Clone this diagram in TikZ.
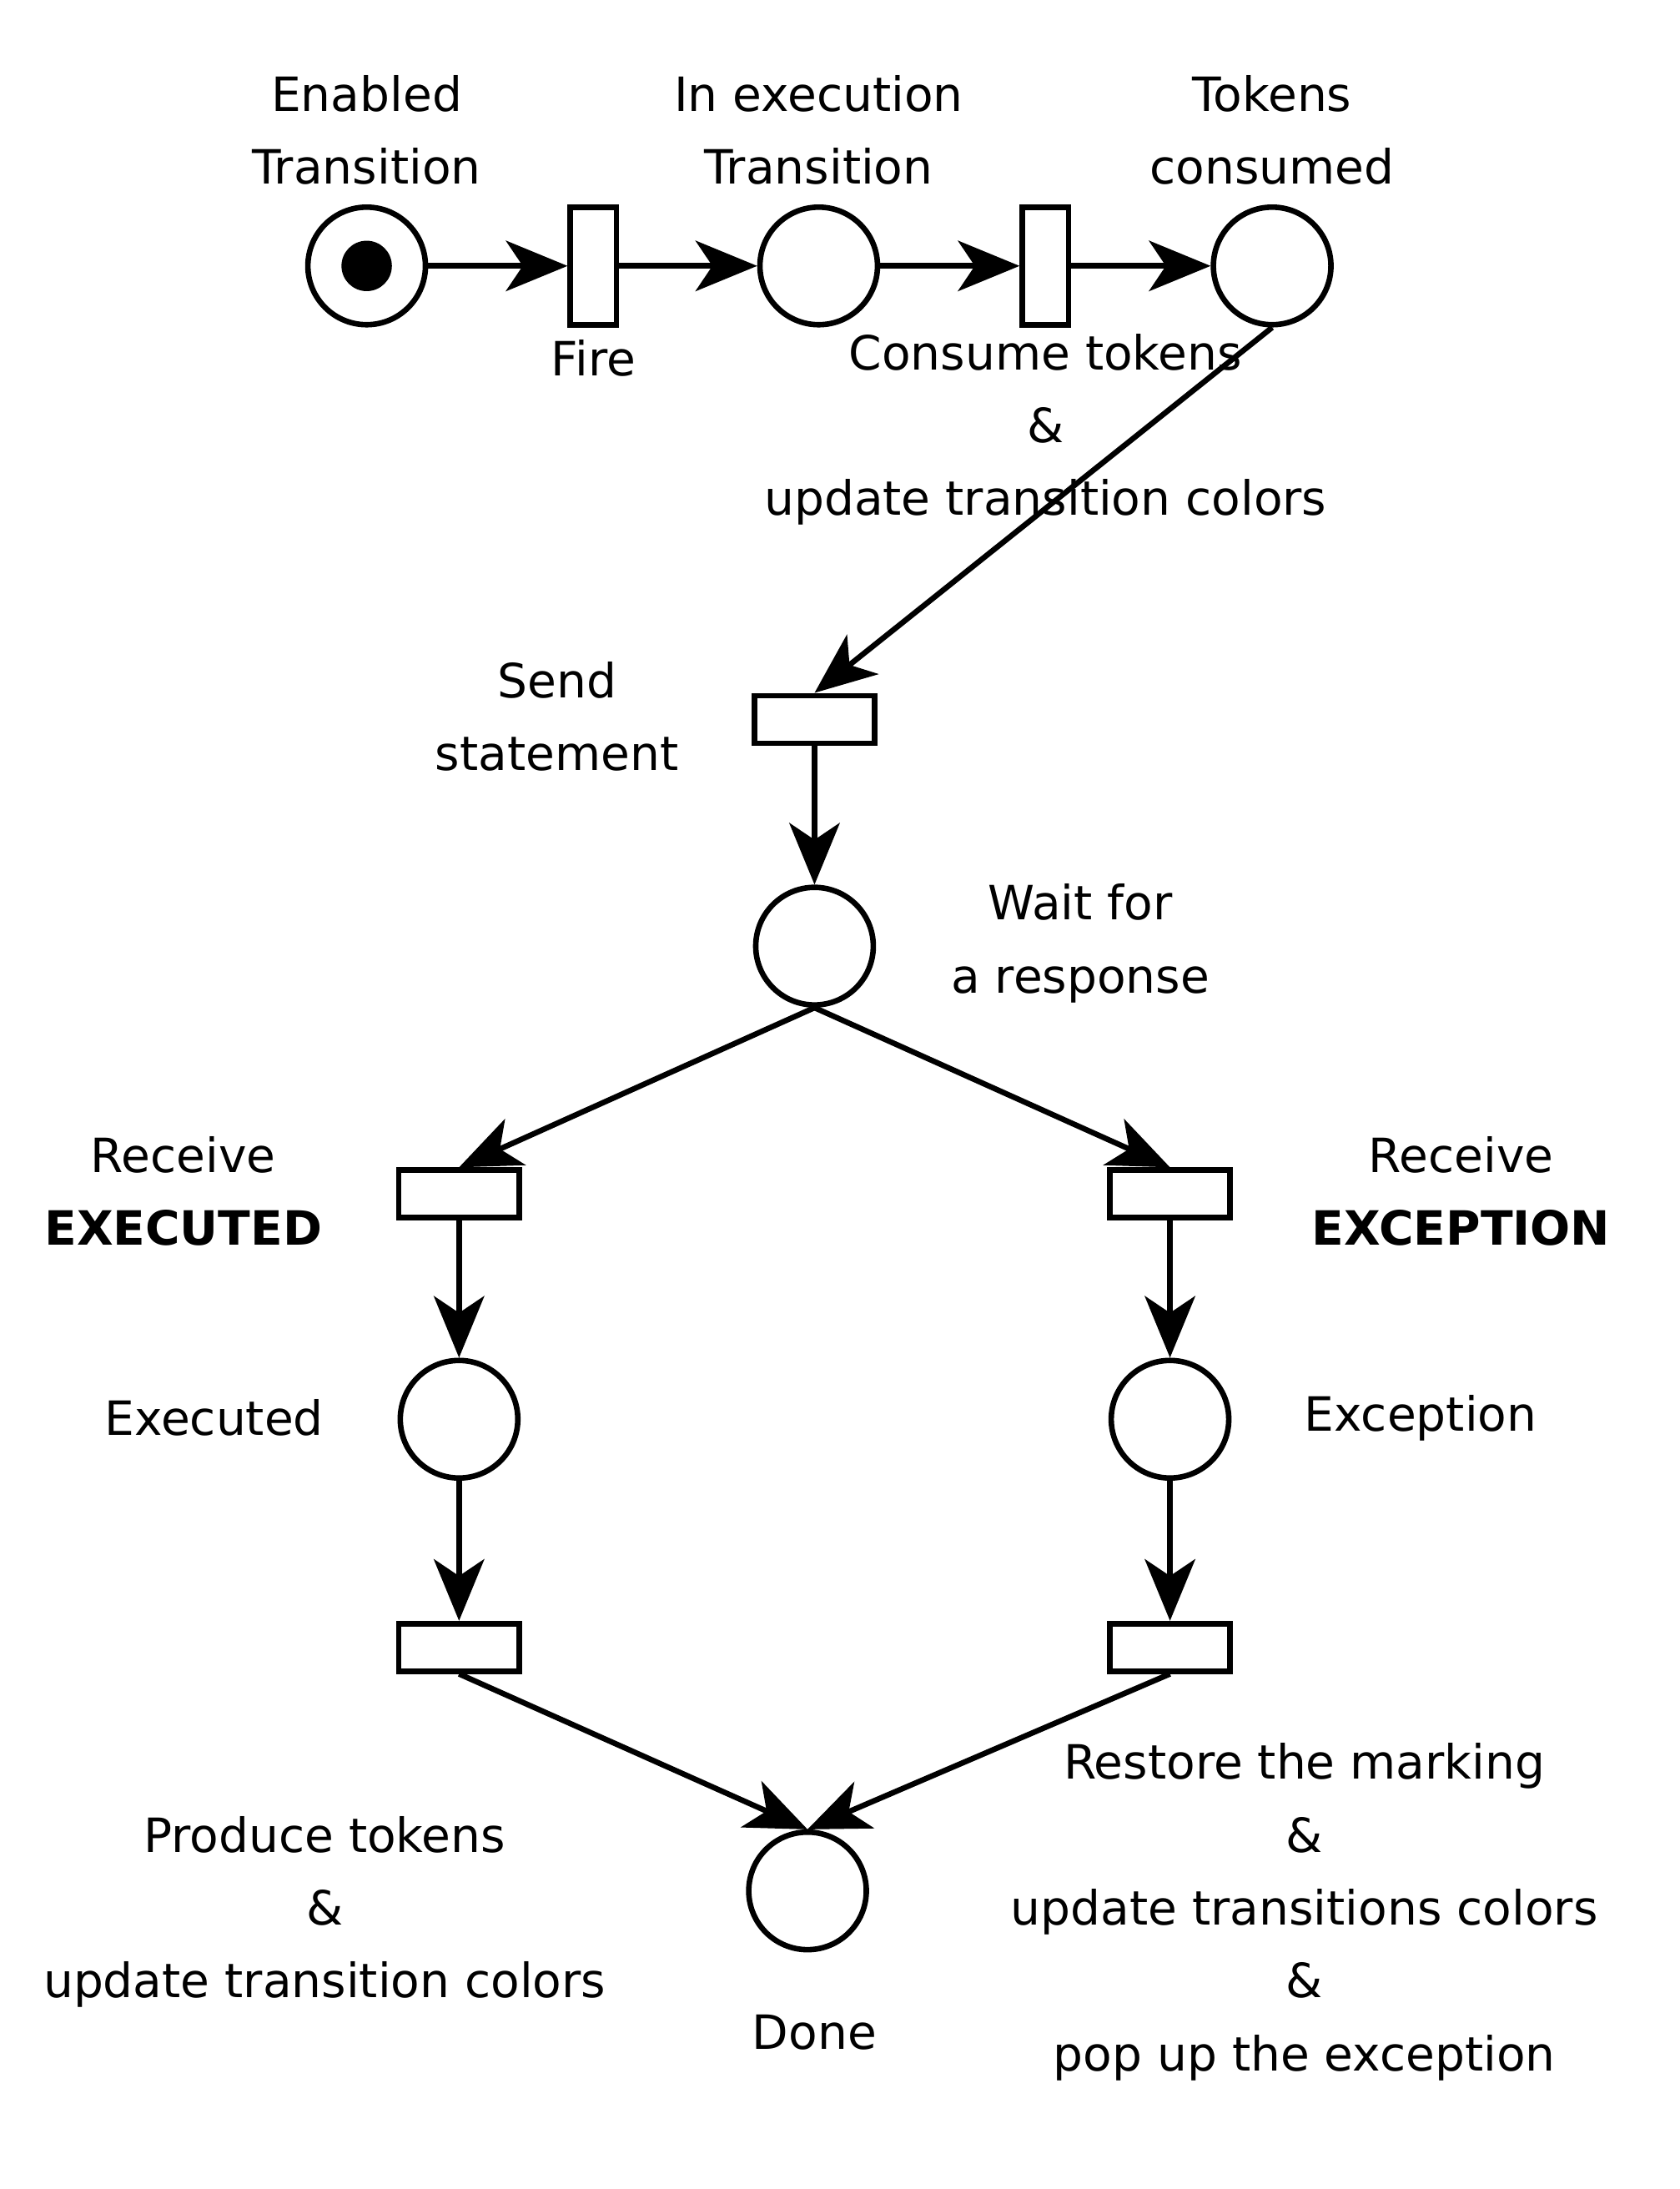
\documentclass[tikz,border=0pt]{standalone}
\usepackage{fontspec}
\setmainfont{DejaVu Sans}
\usetikzlibrary{arrows.meta}
\begin{document}
\begin{tikzpicture}[x=0.025cm,y=-0.025cm,
  every node/.style={font=\fontsize{24}{37}\selectfont},
  place/.style={draw,line width=2.8pt,circle,minimum size=84*0.025cm,inner sep=0pt},
  vtr/.style={draw,line width=2.8pt,minimum width=33*0.025cm,minimum height=84*0.025cm,inner sep=0pt},
  htr/.style={draw,line width=2.8pt,minimum width=86*0.025cm,minimum height=34*0.025cm,inner sep=0pt},
  lbl/.style={align=center,inner sep=0pt},
  arc/.style={line width=2.8pt,-{Stealth[length=1.1cm,width=0.9cm,inset=0.3cm]}}]
\useasboundingbox (0,0) rectangle (1200,1564);
\node[place] (p1) at (262,190) {};
\fill (262,190) circle (0.45cm);
\node[vtr] (t1) at (424,190) {};
\node[place] (p2) at (585,190) {};
\node[vtr] (t2) at (747,190) {};
\node[place] (p3) at (909,190) {};
\node[htr] (t3) at (582,514) {};
\node[place] (p4) at (582,676) {};
\node[htr] (t4) at (328,853) {};
\node[htr] (t5) at (836,853) {};
\node[place] (p5) at (328,1014) {};
\node[place] (p6) at (836,1014) {};
\node[htr] (t6) at (328,1177) {};
\node[htr] (t7) at (836,1177) {};
\node[place] (p7) at (577,1351) {};
\draw[arc] (p1) -- (t1);
\draw[arc] (t1) -- (p2);
\draw[arc] (p2) -- (t2);
\draw[arc] (t2) -- (p3);
\draw[arc] (p3.south) -- (t3.north);
\draw[arc] (t3) -- (p4);
\draw[arc] (p4.south) -- (t4.north);
\draw[arc] (p4.south) -- (t5.north);
\draw[arc] (t4) -- (p5);
\draw[arc] (t5) -- (p6);
\draw[arc] (p5) -- (t6);
\draw[arc] (p6) -- (t7);
\draw[arc] (t6.south) -- (p7.north);
\draw[arc] (t7.south) -- (p7.north);
\node[lbl] (l1) at (262,93) {Enabled\\Transition};
\node[lbl] (l2) at (585,93) {In execution\\Transition};
\node[lbl] (l3) at (909,93) {Tokens\\consumed};
\node[lbl] (l4) at (424,256) {Fire};
\node[lbl] (l5) at (747,307) {Consume tokens\\\&\\update transition colors};
\node[lbl] (l6) at (398,512) {Send\\statement};
\node[lbl] (l7) at (772,674) {Wait for\\a response};
\node[lbl] (l8) at (131,851) {Receive\\\textbf{EXECUTED}};
\node[lbl] (l9) at (1044,851) {Receive\\\textbf{EXCEPTION}};
\node[lbl] (l10) at (153,1013) {Executed};
\node[lbl] (l11) at (1015,1013) {Exception};
\node[lbl] (l12) at (232,1366) {Produce tokens\\\&\\update transition colors};
\node[lbl] (l13) at (582,1452) {Done};
\node[lbl] (l14) at (932,1366) {Restore the marking\\\&\\update transitions colors\\\&\\pop up the exception};
\end{tikzpicture}
\end{document}
